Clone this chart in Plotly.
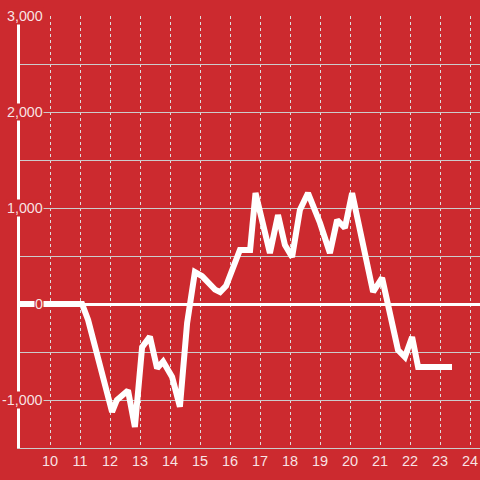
import plotly.graph_objects as go

x_vals = [9.0, 11.07, 11.27, 12.07, 12.23, 12.6, 12.83, 13.07, 13.33, 13.57, 13.77, 14.07, 14.33,
          14.57, 14.83, 15.07, 15.5, 15.67, 15.87, 16.33, 16.67, 16.85, 17.33, 17.6, 17.83,
          18.07, 18.33, 18.6, 19.0, 19.33, 19.57, 19.83, 20.07, 20.5, 20.77, 21.07, 21.6, 21.83,
          22.07, 22.27, 23.4]
y_vals = [0, 0, -167, -1125, -1000, -900, -1280, -450, -340, -670, -600, -760, -1070,
          -200, 333, 290, 150, 125, 190, 563, 563, 1156, 531, 927, 615,
          490, 979, 1156, 844, 531, 875, 792, 1156, 560, 125, 271, -479, -552,
          -344, -656, -656]

x_ticks = list(range(10, 25))
y_label_vals = [3000, 2000, 1000, 0, -1000]
y_label_text = ["3,000", "2,000", "1,000", "0", "-1,000"]

bg = "#cc2a2f"
label_color = "rgba(255,255,255,0.88)"
font_family = "Liberation Sans, Arial, sans-serif"

fig = go.Figure()
fig.add_trace(go.Scatter(x=x_vals, y=y_vals, mode="lines",
                         line=dict(color="white", width=6), hoverinfo="skip"))

for v, t in zip(y_label_vals, y_label_text):
    fig.add_annotation(x=0.052, xref="paper", y=v, yref="y", text=t, showarrow=False,
                       xanchor="right", yanchor="middle", bgcolor=bg, borderpad=0,
                       font=dict(color=label_color, size=14.3, family=font_family))

fig.update_layout(
    width=480, height=480,
    margin=dict(l=20, r=0, t=16, b=32, autoexpand=False),
    paper_bgcolor=bg, plot_bgcolor=bg,
    showlegend=False,
    font=dict(family=font_family, size=14.5, color=label_color),
    xaxis=dict(range=[9, 24.333], tickvals=x_ticks, showgrid=True, gridcolor="#dddddd",
               griddash="dot", gridwidth=1, zeroline=False, showline=True, automargin=False,
               linecolor="#cccccc", linewidth=1, ticks="", tickfont=dict(size=14.5, color=label_color)),
    yaxis=dict(range=[-1500, 3000], dtick=500, showgrid=True, gridcolor="#cccccc", gridwidth=1,
               zeroline=True, zerolinecolor="white", zerolinewidth=3, automargin=False,
               showline=True, linecolor="white", linewidth=3, showticklabels=False, ticks=""),
)

fig.write_html("out.html", config={"displayModeBar": False},
               post_script="document.body.style.margin='0px';document.body.style.background='%s';" % bg)
